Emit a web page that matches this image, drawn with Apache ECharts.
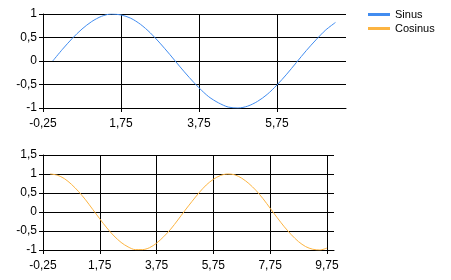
<!DOCTYPE html>
<html><head><meta charset="utf-8">
<script src="https://cdn.jsdelivr.net/npm/echarts@6/dist/echarts.min.js"></script>
<style>html,body{margin:0;padding:0;background:#fff}#c{width:451px;height:280px}</style>
</head><body><div id="c"></div>
<script>
const seriesNames = ['Sinus', 'Cosinus'];
const sinX = [0,0.25,0.5,0.75,1,1.25,1.5,1.75,2,2.25,2.5,2.75,3,3.25,3.5,3.75,4,4.25,4.5,4.75,5,5.25,5.5,5.75,6,6.25,6.5,6.75,7,7.25];
const sinY = [0,0.25,0.48,0.68,0.84,0.95,1.00,0.98,0.91,0.78,0.60,0.38,0.14,-0.11,-0.35,-0.57,-0.76,-0.89,-0.98,-1.00,-0.96,-0.86,-0.71,-0.51,-0.28,-0.03,0.22,0.45,0.66,0.82];
const cosX = [0,0.25,0.5,0.75,1,1.25,1.5,1.75,2,2.25,2.5,2.75,3,3.25,3.5,3.75,4,4.25,4.5,4.75,5,5.25,5.5,5.75,6,6.25,6.5,6.75,7,7.25,7.5,7.75,8,8.25,8.5,8.75,9,9.25,9.5,9.75];
const cosY = [1,0.97,0.88,0.73,0.54,0.32,0.07,-0.18,-0.42,-0.63,-0.80,-0.92,-0.99,-0.99,-0.94,-0.82,-0.65,-0.45,-0.21,0.04,0.28,0.51,0.71,0.86,0.96,1.00,0.98,0.89,0.75,0.57,0.35,0.10,-0.15,-0.39,-0.60,-0.78,-0.91,-0.98,-1.00,-0.95];
const xTicksTop = [-0.25, 1.75, 3.75, 5.75];
const xTicksBottom = [-0.25, 1.75, 3.75, 5.75, 7.75, 9.75];
const xRangeTop = [-0.25, 7.52];
const xRangeBottom = [-0.25, 10];
const yRangeTop = [-1, 1];
const yRangeBottom = [-1, 1.5];
const yStep = 0.5;

const fmt = v => String(v).replace('.', ',');
const black = '#000';
const font = 'Liberation Sans, Arial, sans-serif';

function xAxis(gi, range, ticks) {
  return {
    type: 'value', gridIndex: gi, min: range[0], max: range[1],
    axisLine: { show: true, onZero: false, lineStyle: { color: black, width: 1 } },
    axisTick: { show: true, length: 4, customValues: ticks, lineStyle: { color: black, width: 1 } },
    axisLabel: { customValues: ticks, formatter: fmt, color: black, fontSize: 12, fontFamily: font, margin: 10 },
    splitLine: { show: true, lineStyle: { color: black, width: 1 } }
  };
}
function yAxis(gi, range) {
  return {
    type: 'value', gridIndex: gi, min: range[0], max: range[1], interval: yStep,
    axisLine: { show: true, onZero: false, lineStyle: { color: black, width: 1 } },
    axisTick: { show: true, length: 4, lineStyle: { color: black, width: 1 } },
    axisLabel: { formatter: fmt, color: black, fontSize: 12, fontFamily: font, margin: 6 },
    splitLine: { show: true, lineStyle: { color: black, width: 1 } }
  };
}
const zip = (xs, ys) => xs.map((x, i) => [x, ys[i]]);

const chart = echarts.init(document.getElementById('c'), null, { renderer: 'canvas' });
chart.setOption({
  animation: false,
  backgroundColor: '#fff',
  grid: [
    { left: 43, top: 14, width: 303, height: 94 },
    { left: 43, top: 155, width: 291, height: 95 }
  ],
  xAxis: [xAxis(0, xRangeTop, xTicksTop), xAxis(1, xRangeBottom, xTicksBottom)],
  yAxis: [yAxis(0, yRangeTop), yAxis(1, yRangeBottom)],
  legend: {
    orient: 'vertical', left: 368, top: 8, itemWidth: 22, itemHeight: 3, itemGap: 1,
    icon: 'rect', padding: 0,
    textStyle: { fontSize: 11, color: black, fontFamily: font, lineHeight: 13 },
    data: seriesNames
  },
  series: [
    { name: seriesNames[0], type: 'line', xAxisIndex: 0, yAxisIndex: 0, data: zip(sinX, sinY),
      showSymbol: false, smooth: 0.3, color: '#418CF0', lineStyle: { width: 1, color: '#418CF0' } },
    { name: seriesNames[1], type: 'line', xAxisIndex: 1, yAxisIndex: 1, data: zip(cosX, cosY),
      showSymbol: false, smooth: 0.3, color: '#FCB441', lineStyle: { width: 1, color: '#FCB441' } }
  ]
});
</script></body></html>
